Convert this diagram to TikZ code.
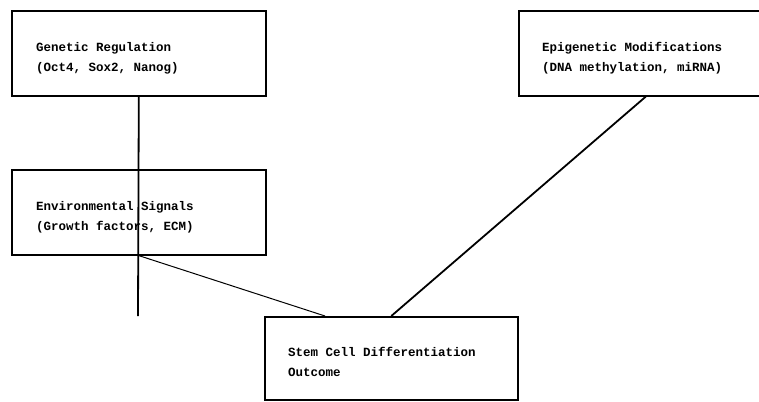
\documentclass[tikz,border=0pt]{standalone}
\usepackage{fontspec}
\setmonofont{Liberation Mono}
\usetikzlibrary{positioning}

\begin{document}
\begin{tikzpicture}[
    x=1pt, y=-1pt,
    box/.style={rectangle, draw, line width=1.6pt, minimum width=254pt, minimum height=85pt, anchor=north west, inner sep=0pt},
    txt/.style={align=left, inner sep=0pt, font=\ttfamily\bfseries\fontsize{12.5}{20}\selectfont},
    link/.style={line width=1.8pt},
    thinlink/.style={line width=1pt}
]
\useasboundingbox (0,0) rectangle (759,401);

% Boxes
\node[box] (gen) at (11,10) {};
\node[box] (epi) at (518,10) {};
\node[box] (env) at (11,169) {};
\node[box, minimum width=253pt, minimum height=83pt] (stem) at (264,316) {};

% Texts
\node[txt, right=25pt of gen.west, yshift=-5pt] (genT) {Genetic Regulation\\(Oct4, Sox2, Nanog)};
\node[txt, right=24pt of epi.west, yshift=-5pt] (epiT) {Epigenetic Modifications\\(DNA methylation, miRNA)};
\node[txt, right=25pt of env.west, yshift=-5pt] (envT) {Environmental Signals\\(Growth factors, ECM)};
\node[txt, right=24pt of stem.west, yshift=-4pt] (stemT) {Stem Cell Differentiation\\Outcome};

% Free ends
\coordinate (genEnd) at (138,316);
\coordinate (stemIn) at (325,316);

% Connectors
\draw[link] (gen.south) -- (genEnd);
\draw[thinlink] (env.south) -- (stemIn);
\draw[link] (epi.south) -- (stem.north);

\end{tikzpicture}
\end{document}
